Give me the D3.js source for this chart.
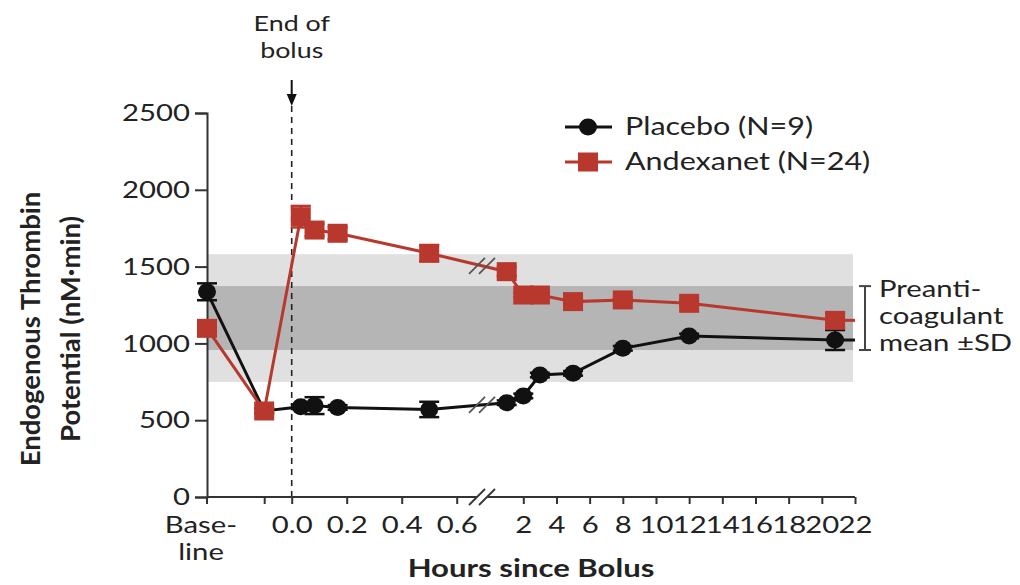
<!DOCTYPE html>
<html>
<head>
<meta charset="utf-8">
<script src="https://cdn.jsdelivr.net/npm/d3@7"></script>
<style>
  html, body { margin: 0; padding: 0; background: #fff; }
  svg { display: block; font-family: "Lato", "Open Sans", sans-serif; }
</style>
</head>
<body>
<svg id="chart" width="1020" height="585"></svg>
<script>
// Sampling times (hours since end of bolus); "Baseline" is the pre-dose sample
const times = ["Baseline", -0.1, 0.033, 0.083, 0.167, 0.5, 1, 2, 3, 5, 8, 12, 20.8];
const placebo = [1336, 560, 588, 595, 583, 570, 614, 658, 794, 805, 968, 1048, 1022];
const placeboSD = [55, 15, 15, 55, 15, 50, 15, 15, 15, 15, 15, 15, 65];
const andexanet = [1098, 560, 1825, 1738, 1717, 1587, 1467, 1315, 1315, 1272, 1283, 1261, 1150];
const andexanetSD = [15, 15, 70, 40, 40, 52, 30, 15, 15, 15, 15, 15, 45];

// Preanticoagulant reference range
const preMean = 1165;
const preSD = 208;

// Axis ticks
const yTicks = [0, 500, 1000, 1500, 2000, 2500];
const earlyTicks = [0, 0.2, 0.4, 0.6];
const earlyTickLabels = ["0.0", "0.2", "0.4", "0.6"];
const lateTicks = [2, 4, 6, 8, 10, 12, 14, 16, 18, 20, 22];
const preBolusTick = -0.1;

const seriesNames = ["Placebo (N=9)", "Andexanet (N=24)"];
const RED = "#b8382d";
const BLACK = "#111";
const TEXT = "#222";
const SX = 1.22;   // horizontal widening of the lettering

const svg = d3.select("#chart");

// Horizontal text, widened around its anchor point
function label(parent, x, y, str, size, opts = {}) {
  return parent.append("text")
    .attr("transform", `translate(${x},${y}) scale(${SX},1)`)
    .attr("text-anchor", opts.anchor || "start")
    .attr("font-size", size)
    .attr("font-weight", opts.weight || "normal")
    .attr("fill", TEXT)
    .text(str);
}

// Layout
const x0 = 207;           // axis origin / baseline position
const yScale = d3.scaleLinear().domain([0, 2500]).range([497, 113]);
const xEarly = d3.scaleLinear().domain([0, 0.6]).range([291.7, 456.7]);
const xLate = d3.scaleLinear().domain([2, 22]).range([523.3, 855]);
const breakX = 482;

function xPos(t) {
  if (t === "Baseline") return x0;
  return t <= 0.6 ? xEarly(t) : xLate(t);
}

// Reference bands: mean ±2SD (light) and mean ±SD (dark)
const bandRight = xLate(22) - 2;
svg.append("rect")
  .attr("x", x0).attr("width", bandRight - x0)
  .attr("y", yScale(preMean + 2 * preSD))
  .attr("height", yScale(preMean - 2 * preSD) - yScale(preMean + 2 * preSD))
  .attr("fill", "#e0e0e0");
svg.append("rect")
  .attr("x", x0).attr("width", bandRight - x0)
  .attr("y", yScale(preMean + preSD))
  .attr("height", yScale(preMean - preSD) - yScale(preMean + preSD))
  .attr("fill", "#b5b5b5");

// End-of-bolus marker
svg.append("line")
  .attr("x1", xEarly(0)).attr("x2", xEarly(0))
  .attr("y1", 106).attr("y2", yScale(0))
  .attr("stroke", "#222").attr("stroke-width", 1.6)
  .attr("stroke-dasharray", "6,5");
svg.append("line")
  .attr("x1", xEarly(0)).attr("x2", xEarly(0))
  .attr("y1", 80).attr("y2", 96)
  .attr("stroke", "#111").attr("stroke-width", 2);
svg.append("path")
  .attr("d", `M${xEarly(0) - 5},94 L${xEarly(0) + 5},94 L${xEarly(0)},106 Z`)
  .attr("fill", "#111");
label(svg, xEarly(0), 31, "End of", 22, { anchor: "middle" });
label(svg, xEarly(0), 58, "bolus", 22, { anchor: "middle" });

// Y axis
const yAxis = d3.axisLeft(yScale).tickValues(yTicks).tickSize(12).tickPadding(5)
  .tickFormat(d3.format("d"));
const gy = svg.append("g").attr("transform", `translate(${x0},0)`).call(yAxis);
gy.select(".domain").attr("stroke", "#333").attr("stroke-width", 2);
gy.selectAll(".tick line").attr("stroke", "#333").attr("stroke-width", 2);
gy.selectAll(".tick text").each(function () {
  const t = d3.select(this);
  const tx = +t.attr("x");
  t.attr("x", 0).attr("transform", `translate(${tx},0) scale(${SX},1)`);
}).attr("font-size", 24).attr("fill", TEXT).attr("font-family", "Lato, sans-serif");

// X axis: two segments separated by a break
const axisY = yScale(0);
function styleXAxis(g) {
  g.select(".domain").remove();
  g.selectAll(".tick line").attr("stroke", "#333").attr("stroke-width", 2);
  g.selectAll(".tick text").attr("font-size", 24).attr("fill", TEXT)
    .attr("font-family", "Lato, sans-serif")
    .attr("transform", `scale(${SX},1)`);
}
const gxEarly = svg.append("g").attr("transform", `translate(0,${axisY})`)
  .call(d3.axisBottom(xEarly).tickValues([preBolusTick, ...earlyTicks]).tickSize(7).tickPadding(12)
    .tickFormat(d => {
      const i = earlyTicks.indexOf(d);
      return i >= 0 ? earlyTickLabels[i] : "";
    }));
styleXAxis(gxEarly);
const gxLate = svg.append("g").attr("transform", `translate(0,${axisY})`)
  .call(d3.axisBottom(xLate).tickValues(lateTicks).tickSize(7).tickPadding(12)
    .tickFormat(d3.format("d")));
styleXAxis(gxLate);

// Baseline tick and two-line label
svg.append("line").attr("x1", x0).attr("x2", x0).attr("y1", axisY).attr("y2", axisY + 7)
  .attr("stroke", "#333").attr("stroke-width", 2);
label(svg, 201, 533, "Base-", 24, { anchor: "middle" });
label(svg, 201, 560, "line", 24, { anchor: "middle" });

// Axis domain lines with break marks
svg.append("line").attr("x1", x0).attr("x2", breakX - 5).attr("y1", axisY).attr("y2", axisY)
  .attr("stroke", "#333").attr("stroke-width", 2);
svg.append("line").attr("x1", breakX + 5).attr("x2", xLate(22)).attr("y1", axisY).attr("y2", axisY)
  .attr("stroke", "#333").attr("stroke-width", 2);
function breakMarks(cx, cy, color, w) {
  [-5, 5].forEach(off => {
    svg.append("line")
      .attr("x1", cx + off - 8).attr("y1", cy + 8)
      .attr("x2", cx + off + 8).attr("y2", cy - 8)
      .attr("stroke", color).attr("stroke-width", w);
  });
}
breakMarks(breakX, axisY, "#333", 1.8);

// Axis titles
svg.append("text")
  .attr("transform", "translate(40,329) rotate(-90)")
  .attr("text-anchor", "middle").attr("font-size", 27.5).attr("font-weight", "bold").attr("fill", TEXT)
  .text("Endogenous Thrombin");
svg.append("text")
  .attr("transform", "translate(80,329) rotate(-90)")
  .attr("text-anchor", "middle").attr("font-size", 27.5).attr("font-weight", "bold").attr("fill", TEXT)
  .text("Potential (nM·min)");
label(svg, 531, 577, "Hours since Bolus", 25.5, { anchor: "middle", weight: "bold" });

// Series
const series = [
  { name: seriesNames[0], values: placebo, sd: placeboSD, color: BLACK, shape: "circle" },
  { name: seriesNames[1], values: andexanet, sd: andexanetSD, color: RED, shape: "square" }
];

const line = d3.line().x(d => d.x).y(d => d.y);

series.forEach(s => {
  const pts = times.map((t, i) => ({ x: xPos(t), y: yScale(s.values[i]), v: s.values[i], sd: s.sd[i] }));
  // trailing segment to the end of the axis
  const last = pts[pts.length - 1];
  const tail = [last, { x: xLate(22), y: last.y }];
  const g = svg.append("g");
  g.append("path").datum(pts).attr("d", line)
    .attr("fill", "none").attr("stroke", s.color).attr("stroke-width", 3);
  g.append("path").datum(tail).attr("d", line)
    .attr("fill", "none").attr("stroke", s.color).attr("stroke-width", 3);

  // break marks where the line crosses the axis break
  const a = pts[5], b = pts[6];
  const yb = a.y + (b.y - a.y) * (breakX - a.x) / (b.x - a.x);
  breakMarks(breakX, yb, "#555", 1.8);

  // error bars
  pts.forEach(p => {
    const yt = yScale(p.v + p.sd), yb2 = yScale(p.v - p.sd);
    g.append("line").attr("x1", p.x).attr("x2", p.x).attr("y1", yt).attr("y2", yb2)
      .attr("stroke", s.color).attr("stroke-width", 2.5);
    [yt, yb2].forEach(yy => g.append("line")
      .attr("x1", p.x - 10).attr("x2", p.x + 10).attr("y1", yy).attr("y2", yy)
      .attr("stroke", s.color).attr("stroke-width", 2.5));
  });

  // markers
  if (s.shape === "circle") {
    g.selectAll("ellipse.m").data(pts).join("ellipse").attr("class", "m")
      .attr("cx", d => d.x).attr("cy", d => d.y).attr("rx", 9).attr("ry", 8.5).attr("fill", s.color);
  } else {
    g.selectAll("rect.m").data(pts).join("rect").attr("class", "m")
      .attr("x", d => d.x - 10).attr("y", d => d.y - 9.5)
      .attr("width", 20).attr("height", 19).attr("fill", s.color);
  }
});

// Legend
const legend = svg.append("g").attr("transform", "translate(565,0)");
series.forEach((s, i) => {
  const ly = 127 + i * 35;
  legend.append("line").attr("x1", 0).attr("x2", 47).attr("y1", ly).attr("y2", ly)
    .attr("stroke", s.color).attr("stroke-width", 3);
  if (s.shape === "circle") {
    legend.append("ellipse").attr("cx", 23).attr("cy", ly).attr("rx", 9).attr("ry", 8.5).attr("fill", s.color);
  } else {
    legend.append("rect").attr("x", 13).attr("y", ly - 9.5).attr("width", 20).attr("height", 19)
      .attr("fill", s.color);
  }
  label(legend, 60, ly + 8, s.name, 25);
});

// Preanticoagulant mean ±SD bracket
const bx = 865;
const bTop = yScale(preMean + preSD), bBot = yScale(preMean - preSD);
svg.append("line").attr("x1", bx).attr("x2", bx).attr("y1", bTop).attr("y2", bBot)
  .attr("stroke", "#444").attr("stroke-width", 2);
[bTop, bBot].forEach(yy => svg.append("line")
  .attr("x1", bx - 6).attr("x2", bx + 6).attr("y1", yy).attr("y2", yy)
  .attr("stroke", "#444").attr("stroke-width", 2));
["Preanti-", "coagulant", "mean ±SD"].forEach((t, i) => {
  label(svg, 879, 297 + i * 27, t, 24);
});
</script>
</body>
</html>
